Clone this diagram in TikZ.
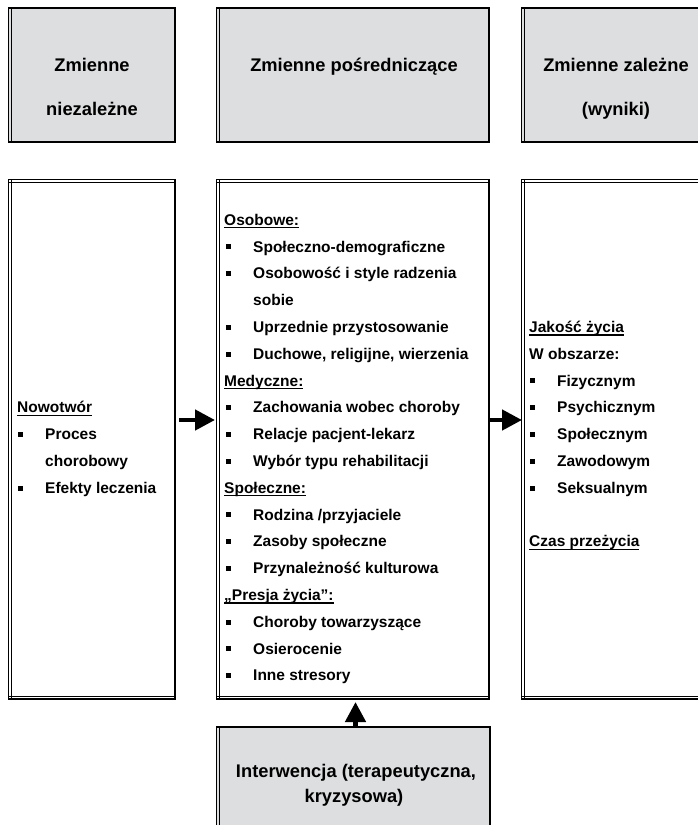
\documentclass[tikz,border=0pt]{standalone}
\usepackage{fontspec}
\setmainfont{Liberation Sans}
\usetikzlibrary{arrows.meta}
\definecolor{hdgray}{RGB}{221,222,224}
\newcommand\ulx[1]{\setbox0\hbox{#1}\rlap{\rule[-3pt]{\wd0}{1.3pt}}\box0}
\newcommand\yk[1]{\pgfmathsetmacro\yy{220+26.8*#1}\pgfmathsetmacro\yb{\yy+5.3}}
\newcommand\hdl[4]{\yk{#3}\node[txt] (#1) at (#2,\yb) {\ulx{#4}};}
\newcommand\bul[4]{\yk{#3}\fill (#2,\yy-2.5) rectangle ++(5,5); \node[txt] (#1) at (#2+27,\yb) {#4};}
\newcommand\pln[4]{\yk{#3}\node[txt] (#1) at (#2,\yb) {#4};}
\newcommand\hframe[1]{%
  \draw[line width=0.8pt] (#1.north west) rectangle (#1.south east);
  \draw[line width=0.8pt] ([xshift=2.5pt]#1.north west) -- ([xshift=2.5pt]#1.south west);
  \draw[line width=2pt] (#1.north west) -- (#1.north east) -- (#1.south east) -- (#1.south west);}
\newcommand\cframe[1]{%
  \draw[line width=0.8pt] (#1.north west) rectangle (#1.south east);
  \draw[line width=0.8pt] ([xshift=2.5pt]#1.north west) -- ([xshift=2.5pt]#1.south west);
  \draw[line width=0.8pt] ([yshift=-2.5pt]#1.north west) -- ([yshift=-2.5pt]#1.north east);
  \draw[line width=0.8pt] ([yshift=3pt]#1.south west) -- ([yshift=3pt]#1.south east);
  \draw[line width=2pt] (#1.north east) -- (#1.south east) -- (#1.south west);}
\begin{document}
\begin{tikzpicture}[x=1pt,y=-1pt,
  txt/.style={anchor=base west,inner sep=0pt,font=\fontsize{15.5}{18}\selectfont\bfseries},
  htxt/.style={anchor=base,inner sep=0pt,font=\fontsize{18.3}{22}\selectfont\bfseries},
  hbox/.style={rectangle,inner sep=0pt,draw=none,fill=hdgray,minimum height=134pt},
  cbox/.style={rectangle,inner sep=0pt,draw=none,fill=white,minimum height=519pt},
  arr/.style={line width=4.5pt,-{Triangle[length=20pt,width=20pt]}}]
\useasboundingbox (0,0) rectangle (698,825);
\clip (0,0) rectangle (698,825);
\fill[white] (0,0) rectangle (698,825);
% header boxes
\node[hbox,minimum width=166pt] (h1) at (92,75) {};
\node[hbox,minimum width=272pt] (h2) at (353,75) {};
\node[hbox,minimum width=188pt] (h3) at (616,75) {};
\hframe{h1}\hframe{h2}\hframe{h3}
\node[htxt] (h1a) at (92,71) {Zmienne};
\node[htxt] (h1b) at (92,115.5) {niezależne};
\node[htxt] (h2a) at (354,71) {Zmienne pośredniczące};
\node[htxt] (h3a) at (616,71) {Zmienne zależne};
\node[htxt] (h3b) at (616,115.5) {(wyniki)};
% content boxes
\node[cbox,minimum width=166pt] (c1) at (92,439.5) {};
\node[cbox,minimum width=272pt] (c2) at (353,439.5) {};
\node[cbox,minimum width=188pt] (c3) at (616,439.5) {};
\cframe{c1}\cframe{c2}\cframe{c3}
% bottom box
\node[hbox,minimum width=273pt] (b1) at (353.5,794) {};
\hframe{b1}
\node[htxt] (b1a) at (356,777) {Interwencja (terapeutyczna,};
\node[htxt] (b1b) at (354,802) {kryzysowa)};
% left content
\hdl{lh}{17}{7}{Nowotwór}
\bul{l1}{18}{8}{Proces}
\pln{l1b}{45}{9}{chorobowy}
\bul{l2}{18}{10}{Efekty leczenia}
% middle content
\hdl{m0}{224}{0}{Osobowe:}
\bul{m1}{226}{1}{Społeczno-demograficzne}
\bul{m2}{226}{2}{Osobowość i style radzenia}
\pln{m3}{253}{3}{sobie}
\bul{m4}{226}{4}{Uprzednie przystosowanie}
\bul{m5}{226}{5}{Duchowe, religijne, wierzenia}
\hdl{m6}{224}{6}{Medyczne:}
\bul{m7}{226}{7}{Zachowania wobec choroby}
\bul{m8}{226}{8}{Relacje pacjent-lekarz}
\bul{m9}{226}{9}{Wybór typu rehabilitacji}
\hdl{m10}{224}{10}{Społeczne:}
\bul{m11}{226}{11}{Rodzina /przyjaciele}
\bul{m12}{226}{12}{Zasoby społeczne}
\bul{m13}{226}{13}{Przynależność kulturowa}
\hdl{m14}{224}{14}{„Presja życia”:}
\bul{m15}{226}{15}{Choroby towarzyszące}
\bul{m16}{226}{16}{Osierocenie}
\bul{m17}{226}{17}{Inne stresory}
% right content
\hdl{r0}{529}{4}{Jakość życia}
\pln{r1}{529}{5}{W obszarze:}
\bul{r2}{530}{6}{Fizycznym}
\bul{r3}{530}{7}{Psychicznym}
\bul{r4}{530}{8}{Społecznym}
\bul{r5}{530}{9}{Zawodowym}
\bul{r6}{530}{10}{Seksualnym}
\hdl{r7}{529}{12}{Czas przeżycia}
% arrows
\coordinate (a1s) at (179,420);
\coordinate (a1e) at (215,420);
\coordinate (a2s) at (490,420);
\coordinate (a2e) at (522,420);
\coordinate (a3s) at (355.5,727);
\coordinate (a3e) at (355.5,702);
\draw[arr] (a1s) -- (a1e);
\draw[arr] (a2s) -- (a2e);
\draw[arr] (a3s) -- (a3e);
\end{tikzpicture}
\end{document}
